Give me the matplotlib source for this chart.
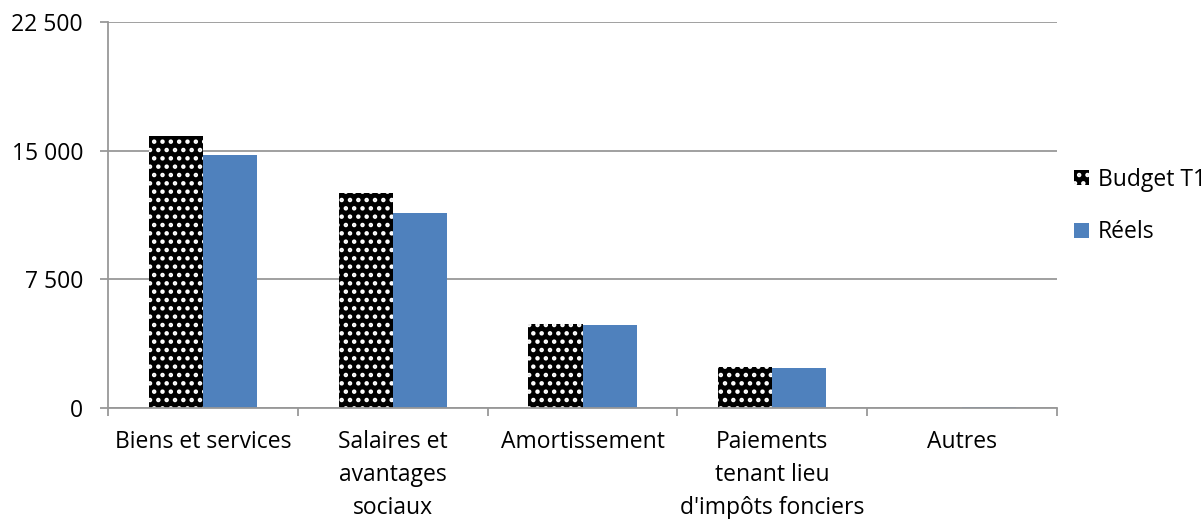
import matplotlib
matplotlib.use("Agg")
import matplotlib.pyplot as plt
import numpy as np

categories = ["Biens et services", "Salaires et\navantages\nsociaux", "Amortissement",
              "Paiements\ntenant lieu\nd'impôts fonciers", "Autres"]
budget = [15850, 12530, 4900, 2390, 0]
reels = [14750, 11370, 4840, 2330, 60]
yticks = [0, 7500, 15000, 22500]
ytick_labels = ["0", "7 500", "15 000", "22 500"]

plt.rcParams['font.family'] = ['Open Sans', 'DejaVu Sans']
plt.rcParams['hatch.linewidth'] = 2.0

FS = 16.5
fig = plt.figure(figsize=(12.04, 5.19), dpi=100)
ax = fig.add_axes([108/1204, 1-408/519, (1057-108)/1204, (408-22)/519])

x = np.arange(len(categories))
w = 0.285
b1 = ax.bar(x - w/2, budget, w, color='black', edgecolor='white', linewidth=0,
            hatch='..', label='Budget T1')
b2 = ax.bar(x + w/2, reels, w, color='#4F81BD', linewidth=0, label='Réels')

ax.set_xlim(-0.5, len(categories) - 0.5)
ax.set_ylim(0, 22500)
ax.set_yticks(yticks)
ax.set_yticklabels(ytick_labels, fontsize=FS)
ax.yaxis.grid(True, color='#989898', linewidth=1.3)
ax.set_axisbelow(True)

ax.set_xticks(x)
ax.set_xticklabels(categories, fontsize=FS, linespacing=1.5)
ax.set_xticks(np.arange(-0.5, len(categories)), minor=True)
ax.tick_params(axis='x', which='major', length=0, pad=16)
ax.tick_params(axis='x', which='minor', length=6, color='#989898', width=1.3)
ax.tick_params(axis='y', length=6, color='#989898', width=1.3, pad=12)

for s in ['top', 'right']:
    ax.spines[s].set_visible(False)
for s in ['left', 'bottom']:
    ax.spines[s].set_color('#989898')
    ax.spines[s].set_linewidth(1.3)

fig.legend(handles=[b1, b2], loc='upper left', bbox_to_anchor=(1053/1204, 1-147/519),
           frameon=False, fontsize=FS, handlelength=0.65, handleheight=0.65,
           handletextpad=0.4, labelspacing=1.25)

fig.savefig("out.png", dpi=100)
